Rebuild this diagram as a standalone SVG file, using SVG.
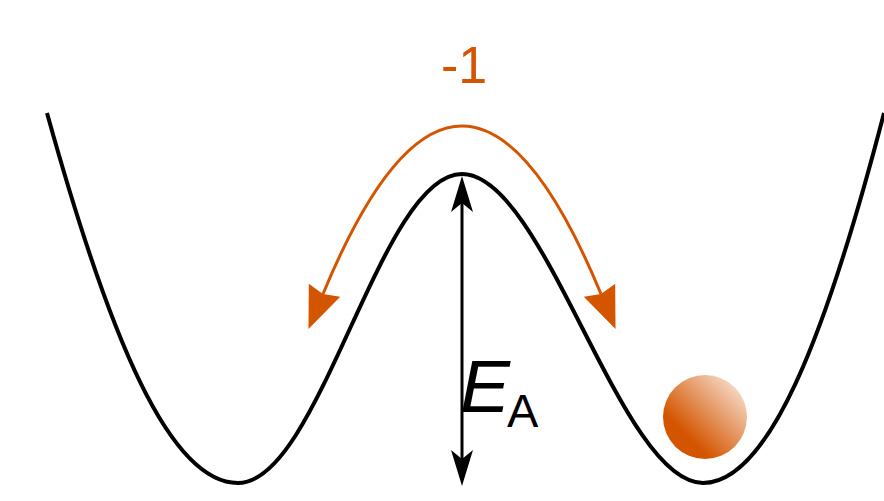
<svg xmlns="http://www.w3.org/2000/svg" width="884" height="501" viewBox="0 0 884 501">
  <style>
    .well { fill: none; stroke: #000000; stroke-width: 4; stroke-linecap: butt; }
    .ea { fill: none; stroke: #000000; stroke-width: 3; }
    .flip { fill: none; stroke: #D45500; stroke-width: 3; }
    .lbl { font-family: "Liberation Sans", Arial, sans-serif; }
  </style>
  <defs>
    <marker id="arrBlack" viewBox="-10 -12 38 24" refX="0" refY="0" markerWidth="38" markerHeight="24" markerUnits="userSpaceOnUse" orient="auto-start-reverse">
      <path d="M-9,-11 L27,0 L-9,11 L0,0 Z" fill="#000000"/>
    </marker>
    <marker id="arrOrange" viewBox="-1 -18 44 36" refX="4" refY="0" markerWidth="44" markerHeight="36" markerUnits="userSpaceOnUse" orient="auto-start-reverse">
      <path d="M0,-17 L42,0 L0,17 L4,0 Z" fill="#D45500"/>
    </marker>
    <linearGradient id="ballGrad" x1="0" y1="1" x2="1" y2="0">
      <stop offset="0.28" stop-color="#D45500"/>
      <stop offset="0.92" stop-color="#F8E2D3"/>
    </linearGradient>
  </defs>

  <g id="potential-well">
    <path class="well" d="M47,113 C110,340 170,483 238,483 C320,483 380,174 462,174 C545,174 620,483 703,483 C768,483 825,340 884,113"/>
  </g>

  <g id="ball">
    <circle cx="705" cy="417" r="42" fill="url(#ballGrad)"/>
  </g>

  <g id="label-minus-one">
    <text class="lbl" x="441" y="83" font-size="52" fill="#D45500">-1</text>
  </g>

  <g id="label-ea">
    <text class="lbl" x="460" y="412" font-size="75" fill="#000000"><tspan font-style="italic">E</tspan><tspan font-size="47" dx="-3" dy="15">A</tspan></text>
  </g>

  <g id="connectors">
    <path class="flip" d="M323,294 Q462,-42 601,294" marker-start="url(#arrOrange)" marker-end="url(#arrOrange)"/>
    <path class="ea" d="M462,203 L462,459" marker-start="url(#arrBlack)" marker-end="url(#arrBlack)"/>
  </g>
</svg>
